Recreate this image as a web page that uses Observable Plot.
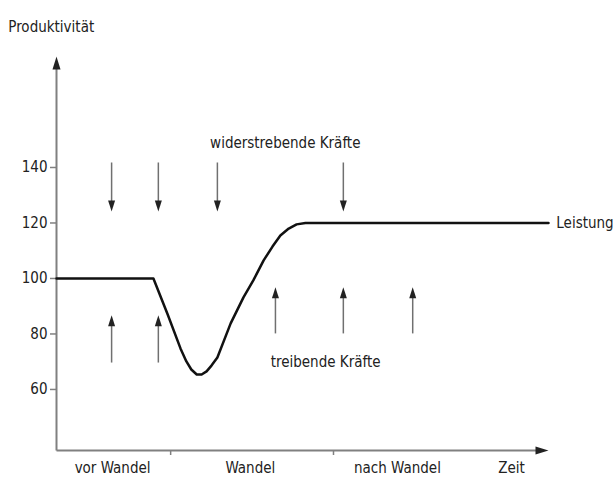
<!DOCTYPE html>
<html><head><meta charset="utf-8">
<script src="https://cdn.jsdelivr.net/npm/d3@7"></script>
<script src="https://cdn.jsdelivr.net/npm/@observablehq/plot@0.6"></script>
<style>body{margin:0;background:#fff} svg{display:block}</style>
</head><body><div id="chart"></div>
<script>
// Performance curve (Zeit vs Produktivität)
const curveT = [0, 19.7, 22.6, 25.2, 26.4, 27.4, 28.5, 29.5, 30.5, 31.5, 32.7, 35.4, 38.0, 40.0, 42.1, 43.9, 45.5, 47.2, 48.8, 50.6, 100];
const curveP = [100, 100, 87.0, 74.8, 70.1, 67.2, 65.4, 65.4, 66.5, 68.6, 71.5, 83.8, 93.2, 99.3, 106.5, 111.5, 115.5, 118.0, 119.5, 120, 120];
const yTicks = [60, 80, 100, 120, 140];
const phaseLabels = ["vor Wandel", "Wandel", "nach Wandel", "Zeit"];
const phaseX = [11.4, 39.4, 69.3, 92.5];
const phaseTicks = [23.2, 56.3];
// Forces
const downX = [11.2, 20.7, 32.7, 58.3];
const downFrom = 141.8, downTo = 124.1;
const upX = [11.2, 20.7, 44.5, 58.3, 72.4];
const upFrom = [69.7, 69.7, 80.2, 80.2, 80.2];
const upTo = [86.7, 86.7, 96.8, 96.8, 96.8];
const centerNotes = [
  {t: "widerstrebende Kräfte", x: 46.5, y: 148.7},
  {t: "treibende Kräfte", x: 54.7, y: 69.7}
];
const startNotes = [
  {t: "Leistung", x: 101.6, y: 120},
  {t: "Produktivität", x: -9.8, y: 190.5}
];
const xMin = 0, xMax = 100, yMin = 38, yMax = 180;

const curve = curveT.map((t, i) => ({t, p: curveP[i]}));
const downs = downX.map(x => ({x, y1: downFrom, y2: downTo}));
const ups = upX.map((x, i) => ({x, y1: upFrom[i], y2: upTo[i]}));
const head = (w, h) => ({draw(ctx) { ctx.moveTo(0, 0); ctx.lineTo(w / 2, h); ctx.lineTo(-w / 2, h); ctx.closePath(); }});
const font = '"DejaVu Sans Condensed","Liberation Sans Narrow","Arial Narrow","DejaVu Sans",sans-serif';

const chart = Plot.plot({
  width: 616, height: 481,
  marginLeft: 56, marginRight: 68, marginTop: 56, marginBottom: 31,
  x: {domain: [xMin, xMax], axis: null},
  y: {domain: [yMin, yMax], axis: null},
  style: {fontFamily: font, fontStretch: "condensed", color: "#222", background: "#fff", overflow: "visible"},
  marks: [
    // axes
    Plot.link([{x1: xMin, y1: yMin, x2: xMin, y2: yMax - 2}], {x1: "x1", y1: "y1", x2: "x2", y2: "y2", stroke: "#808080", strokeWidth: 2}),
    Plot.link([{x1: xMin, y1: yMin, x2: xMax - 1, y2: yMin}], {x1: "x1", y1: "y1", x2: "x2", y2: "y2", stroke: "#808080", strokeWidth: 2}),
    Plot.dot([{x: xMin, y: yMax}], {x: "x", y: "y", symbol: head(8, 13), fill: "#222", stroke: "none"}),
    Plot.dot([{x: xMax, y: yMin}], {x: "x", y: "y", symbol: head(8, 13), rotate: 90, fill: "#222", stroke: "none"}),
    Plot.axisY(yTicks, {tickSize: 6, tickPadding: 3, fontSize: 15, stroke: "#808080", strokeWidth: 1.5, label: null}),
    Plot.axisX(phaseTicks, {tickSize: 5, tickFormat: () => "", stroke: "#808080", strokeWidth: 1.5, label: null}),
    Plot.text(phaseLabels, {x: (d, i) => phaseX[i], y: yMin, text: d => d, dy: 18, fontSize: 15, fill: "#222"}),
    // forces
    Plot.link(downs, {x1: "x", x2: "x", y1: "y1", y2: d => d.y2 + 2, stroke: "#707070", strokeWidth: 1.5}),
    Plot.dot(downs, {x: "x", y: "y2", symbol: head(7, 11), rotate: 180, fill: "#222", stroke: "none"}),
    Plot.link(ups, {x1: "x", x2: "x", y1: "y1", y2: d => d.y2 - 2, stroke: "#707070", strokeWidth: 1.5}),
    Plot.dot(ups, {x: "x", y: "y2", symbol: head(7, 11), fill: "#222", stroke: "none"}),
    // performance curve
    Plot.line(curve, {x: "t", y: "p", stroke: "#111", strokeWidth: 2.5, curve: "linear", strokeLinejoin: "round"}),
    // annotations
    Plot.text(centerNotes, {x: "x", y: "y", text: "t", textAnchor: "middle", fontSize: 15, fill: "#222"}),
    Plot.text(startNotes, {x: "x", y: "y", text: "t", textAnchor: "start", fontSize: 15, fill: "#222"})
  ]
});
document.getElementById("chart").append(chart);
</script>
</body></html>
